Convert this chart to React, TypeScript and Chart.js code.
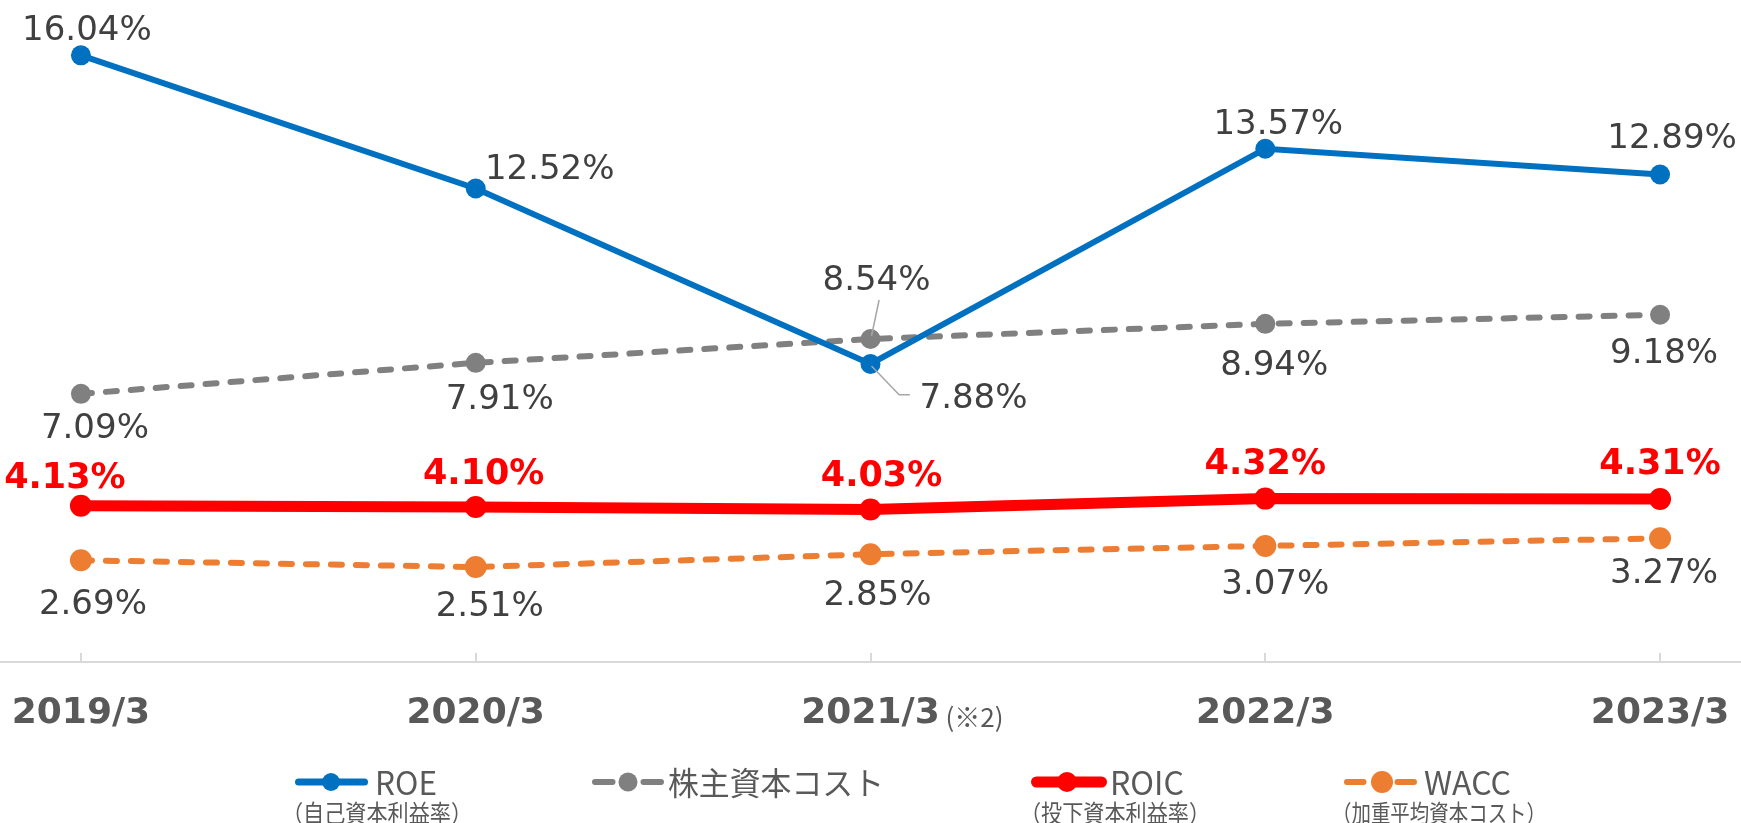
import React, { useEffect, useRef } from 'react';
import { Chart, registerables } from 'chart.js';

Chart.register(...registerables);

// ---- data ----
const categories = ['2019/3', '2020/3', '2021/3', '2022/3', '2023/3'];
const categoryNotes = ['', '', '(※2)', '', ''];
const roe = [16.04, 12.52, 7.88, 13.57, 12.89];
const equityCost = [7.09, 7.91, 8.54, 8.94, 9.18];
const roic = [4.13, 4.1, 4.03, 4.32, 4.31];
const wacc = [2.69, 2.51, 2.85, 3.07, 3.27];

// ---- label placement (offset of label centre from its point) ----
const roeLabelOffsets = [[6, -28], [74, -22], [103, 32], [13, -27], [12, -39]];
const equityLabelOffsets = [[14, 32], [24, 34], [6, -61], [9, 39], [4, 36]];
const roicLabelOffsets = [[-16, -31], [8, -36], [11, -36], [0, -37], [0, -38]];
const waccLabelOffsets = [[12, 41], [14, 37], [7, 38], [10, 36], [4, 32]];

const COLORS = {
  roe: '#0070C0',
  equity: '#808080',
  roic: '#FF0000',
  wacc: '#ED7D31',
  text: '#404040',
  axisText: '#595959',
  axis: '#D9D9D9',
  leader: '#A6A6A6',
};

const toPoints = (arr: number[]) => arr.map((v, i) => ({ x: i, y: v }));
const fmt = (v: number) => v.toFixed(2) + '%';

const labelCfg = [
  { offsets: roeLabelOffsets, size: 34, weight: 'normal', color: COLORS.text },
  { offsets: equityLabelOffsets, size: 34, weight: 'normal', color: COLORS.text },
  { offsets: roicLabelOffsets, size: 35, weight: 'bold', color: COLORS.roic },
  { offsets: waccLabelOffsets, size: 34, weight: 'normal', color: COLORS.text },
];

// leader lines: [datasetIndex, pointIndex, list of offsets from point]
const leaders: [number, number, number[][]][] = [
  [1, 2, [[8.6, -39], [1, -3]]],
  [0, 2, [[1, 2], [28.6, 30.7], [39.3, 30.7]]],
];

const legendItems = [
  { label: 'ROE', sub: '（自己資本利益率）', color: COLORS.roe, dashed: false, lw: 7, x0: 295, x1: 368, mx: 331, r: 9, tx: 375, tw: 62, sx: 282, sw: 190 },
  { label: '株主資本コスト', sub: '', color: COLORS.equity, dashed: true, lw: 6, x0: 592, x1: 664, mx: 628, r: 9.5, tx: 668, tw: 216, sx: 0, sw: 0 },
  { label: 'ROIC', sub: '（投下資本利益率）', color: COLORS.roic, dashed: false, lw: 11, x0: 1031, x1: 1107, mx: 1067, r: 10, tx: 1110, tw: 78, sx: 1020, sw: 190 },
  { label: 'WACC', sub: '（加重平均資本コスト）', color: COLORS.wacc, dashed: true, lw: 6, x0: 1344, x1: 1417, mx: 1382, r: 11, tx: 1424, tw: 102, sx: 1332, sw: 214 },
];

const overlayPlugin = {
  id: 'overlay',
  beforeDatasetsDraw(chart: any) {
    const ctx = chart.ctx;
    const xs = chart.scales.x;
    const area = chart.chartArea;
    ctx.save();
    ctx.strokeStyle = COLORS.axis;
    ctx.lineWidth = 2;
    categories.forEach((_, i) => {
      const px = Math.round(xs.getPixelForValue(i));
      ctx.beginPath();
      ctx.moveTo(px, area.bottom - 9);
      ctx.lineTo(px, area.bottom);
      ctx.stroke();
    });
    ctx.restore();
  },
  afterDatasetsDraw(chart: any) {
    const ctx = chart.ctx;
    ctx.save();
    // leader lines
    ctx.strokeStyle = COLORS.leader;
    ctx.lineWidth = 1.5;
    leaders.forEach(([di, pi, pts]) => {
      const el = chart.getDatasetMeta(di).data[pi];
      ctx.beginPath();
      pts.forEach(([dx, dy], k) => {
        if (k === 0) ctx.moveTo(el.x + dx, el.y + dy);
        else ctx.lineTo(el.x + dx, el.y + dy);
      });
      ctx.stroke();
    });
    // data labels
    chart.data.datasets.forEach((ds: any, di: number) => {
      const cfg = labelCfg[di];
      const meta = chart.getDatasetMeta(di);
      ctx.font = `${cfg.weight} ${cfg.size}px "DejaVu Sans"`;
      ctx.fillStyle = cfg.color;
      ctx.textAlign = 'center';
      ctx.textBaseline = 'alphabetic';
      meta.data.forEach((el: any, i: number) => {
        const [dx, dy] = cfg.offsets[i];
        ctx.fillText(fmt(ds.data[i].y), el.x + dx, el.y + dy + (cfg.size * 0.729) / 2);
      });
    });
    ctx.restore();
  },
  afterDraw(chart: any) {
    const ctx = chart.ctx;
    const xs = chart.scales.x;
    ctx.save();
    // category notes
    ctx.font = '26px "Noto Sans CJK JP"';
    ctx.fillStyle = COLORS.axisText;
    ctx.textAlign = 'left';
    ctx.textBaseline = 'alphabetic';
    categoryNotes.forEach((n, i) => {
      if (!n) return;
      ctx.fillText(n, xs.getPixelForValue(i) + 75, 727);
    });
    // legend
    const ly = 782;
    legendItems.forEach((it) => {
      ctx.strokeStyle = it.color;
      ctx.fillStyle = it.color;
      ctx.lineWidth = it.lw;
      ctx.lineCap = 'round';
      if (it.dashed) {
        const segLen = (it.x1 - it.x0 - 2 * it.r - 12) / 2;
        ctx.beginPath();
        ctx.moveTo(it.x0 + 3, ly);
        ctx.lineTo(it.x0 + segLen, ly);
        ctx.moveTo(it.x1 - segLen, ly);
        ctx.lineTo(it.x1 - 3, ly);
        ctx.stroke();
      } else {
        ctx.beginPath();
        ctx.moveTo(it.x0 + it.lw / 2, ly);
        ctx.lineTo(it.x1 - it.lw / 2, ly);
        ctx.stroke();
      }
      ctx.beginPath();
      ctx.arc(it.mx, ly, it.r, 0, Math.PI * 2);
      ctx.fill();
      ctx.fillStyle = COLORS.axisText;
      ctx.textAlign = 'left';
      ctx.font = '32px "Noto Sans CJK JP"';
      ctx.fillText(it.label, it.tx, 795, it.tw);
      if (it.sub) {
        ctx.font = '24px "Noto Sans CJK JP"';
        ctx.fillText(it.sub, it.sx, 822, it.sw);
      }
    });
    ctx.restore();
  },
};

export default function App() {
  const ref = useRef<HTMLCanvasElement>(null);
  useEffect(() => {
    const chart = new Chart(ref.current as HTMLCanvasElement, {
      type: 'line',
      data: {
        datasets: [
          {
            label: 'ROE',
            data: toPoints(roe),
            borderColor: COLORS.roe,
            backgroundColor: COLORS.roe,
            borderWidth: 6,
            pointRadius: 10,
            pointBorderWidth: 0,
            pointBackgroundColor: COLORS.roe,
          },
          {
            label: '株主資本コスト',
            data: toPoints(equityCost),
            borderColor: COLORS.equity,
            backgroundColor: COLORS.equity,
            borderWidth: 6,
            borderDash: [11, 14],
            borderCapStyle: 'round',
            pointRadius: 10,
            pointBorderWidth: 0,
            pointBackgroundColor: COLORS.equity,
          },
          {
            label: 'ROIC',
            data: toPoints(roic),
            borderColor: COLORS.roic,
            backgroundColor: COLORS.roic,
            borderWidth: 11,
            pointRadius: 11,
            pointBorderWidth: 0,
            pointBackgroundColor: COLORS.roic,
          },
          {
            label: 'WACC',
            data: toPoints(wacc),
            borderColor: COLORS.wacc,
            backgroundColor: COLORS.wacc,
            borderWidth: 6,
            borderDash: [11, 14],
            borderCapStyle: 'round',
            pointRadius: 11,
            pointBorderWidth: 0,
            pointBackgroundColor: COLORS.wacc,
          },
        ],
      },
      options: {
        animation: false,
        responsive: false,
        devicePixelRatio: 1,
        layout: { autoPadding: false, padding: { top: 19, left: 0, right: 0, bottom: 0 } },
        plugins: { legend: { display: false }, tooltip: { enabled: false } },
        scales: {
          x: {
            type: 'linear',
            min: -0.205,
            max: 4.205,
            afterBuildTicks: (s: any) => {
              s.ticks = categories.map((_, i) => ({ value: i }));
            },
            afterFit: (s: any) => {
              s.height = 161;
              s.paddingLeft = 0;
              s.paddingRight = 0;
            },
            ticks: {
              callback: (v: any) => categories[v] ?? '',
              font: { family: 'DejaVu Sans', size: 36, weight: 'bold' },
              color: COLORS.axisText,
              padding: 30,
              autoSkip: false,
              maxRotation: 0,
            },
            grid: { display: false, drawTicks: false },
            border: { display: true, color: COLORS.axis, width: 2 },
          },
          y: {
            display: false,
            min: 0,
            max: 17,
          },
        },
      } as any,
      plugins: [overlayPlugin],
    });
    return () => chart.destroy();
  }, []);
  return (
    <div style={{ position: 'fixed', left: 0, top: 0, width: 1741, height: 823, background: '#ffffff' }}>
      <canvas ref={ref} width={1741} height={823} style={{ display: 'block', width: 1741, height: 823 }} />
    </div>
  );
}
